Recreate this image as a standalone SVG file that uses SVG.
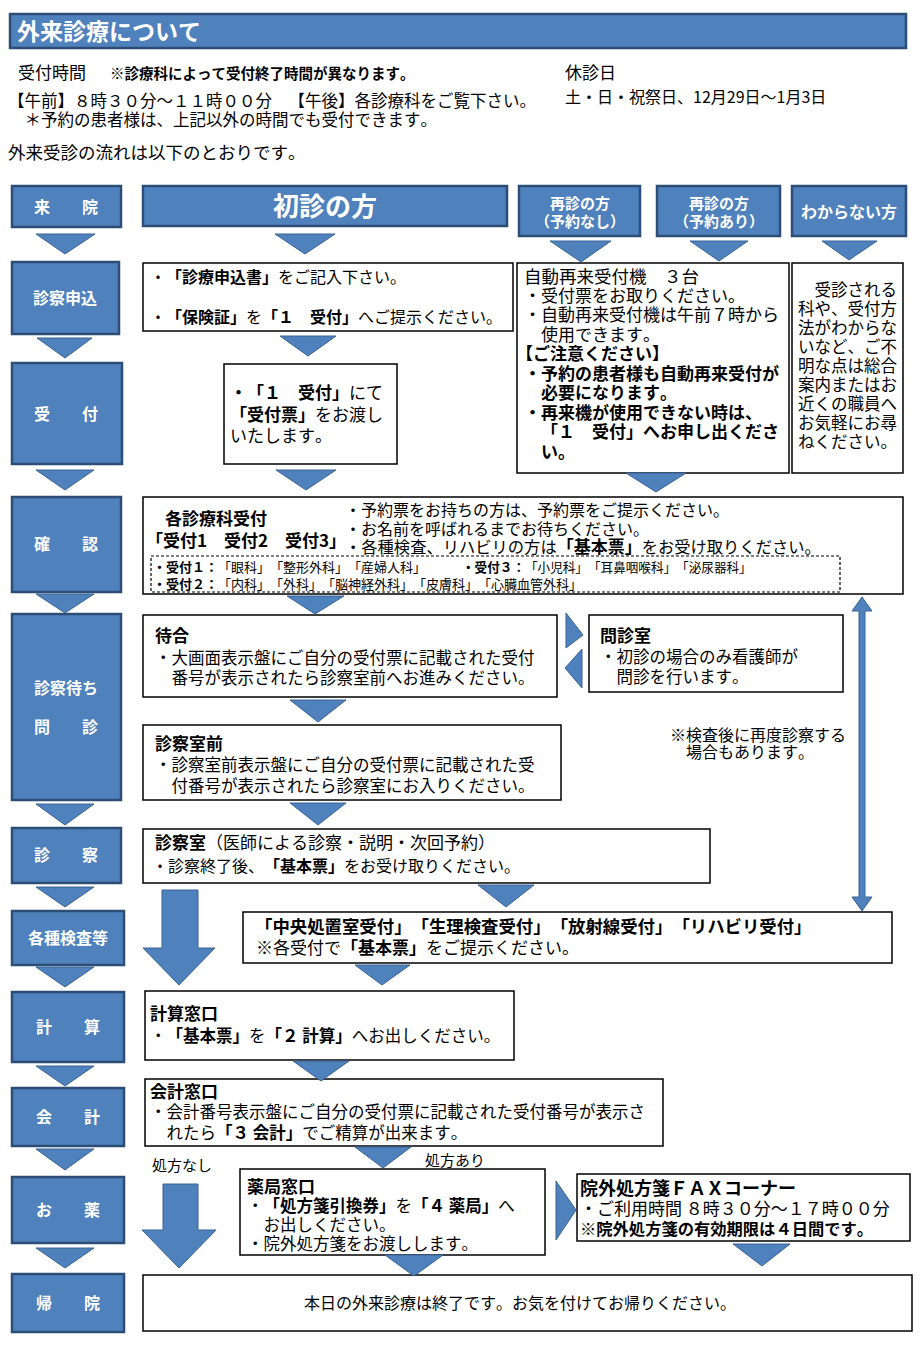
<svg xmlns="http://www.w3.org/2000/svg" width="924" height="1349" viewBox="0 0 924 1349">
<style>
text{font-family:"Noto Sans CJK JP","Noto Sans CJK SC",sans-serif;fill:#000;text-spacing-trim:space-all;font-kerning:none}
.b{font-weight:bold}
.bl{fill:#4F81BD;stroke:#2C4D75;stroke-width:2.5}
.wb{fill:#fff;stroke:#000;stroke-width:1.5}
.dash{fill:none;stroke:#000;stroke-width:1.2;stroke-dasharray:3 2}
.tri{fill:#4F81BD;stroke:#3A6494;stroke-width:1}
.lb{fill:#fff;font-weight:bold;font-size:16px;text-anchor:middle}
.f16{font-size:16px}
.f17{font-size:17px}
</style>
<rect width="924" height="1349" fill="#fff"/>

<g id="title">
<rect x="10" y="14" width="896" height="34" class="bl"/>
<text x="17" y="40" font-size="23" class="b" style="fill:#fff">外来診療について</text>
</g>

<g id="header">
<text x="18" y="79" font-size="17">受付時間</text>
<text x="110" y="79" font-size="14.5" class="b">※診療科によって受付終了時間が異なります。</text>
<text x="8" y="107" font-size="16.5">【午前】８時３０分～１１時００分　【午後】各診療科をご覧下さい。</text>
<text x="8" y="126" font-size="16.5">　＊予約の患者様は、上記以外の時間でも受付できます。</text>
<text x="8" y="159" font-size="17.5">外来受診の流れは以下のとおりです。</text>
<text x="565" y="79" font-size="17">休診日</text>
<text x="565" y="103" font-size="16">土・日・祝祭日、12月29日～1月3日</text>
</g>

<g id="steps">
<g id="s-raiin"><rect x="12" y="186" width="109" height="41" class="bl"/><text x="66" y="213" class="lb">来　　院</text></g>
<g id="s-moushikomi"><rect x="12" y="262" width="107" height="72" class="bl"/><text x="65" y="304" class="lb">診察申込</text></g>
<g id="s-uketsuke"><rect x="12" y="363" width="110" height="101" class="bl"/><text x="66" y="420" class="lb">受　　付</text></g>
<g id="s-kakunin"><rect x="12" y="497" width="109" height="95" class="bl"/><text x="66" y="550" class="lb">確　　認</text></g>
<g id="s-machi"><rect x="12" y="614" width="109" height="186" class="bl"/><text x="66" y="694" class="lb">診察待ち</text><text x="66" y="733" class="lb">問　　診</text></g>
<g id="s-shinsatsu"><rect x="12" y="828" width="109" height="55" class="bl"/><text x="66" y="861" class="lb">診　　察</text></g>
<g id="s-kensa"><rect x="12" y="911" width="112" height="54" class="bl"/><text x="68" y="944" class="lb">各種検査等</text></g>
<g id="s-keisan"><rect x="12" y="992" width="112" height="70" class="bl"/><text x="68" y="1033" class="lb">計　　算</text></g>
<g id="s-kaikei"><rect x="12" y="1088" width="112" height="58" class="bl"/><text x="68" y="1123" class="lb">会　　計</text></g>
<g id="s-kusuri"><rect x="12" y="1177" width="112" height="66" class="bl"/><text x="68" y="1216" class="lb">お　　薬</text></g>
<g id="s-kiin"><rect x="12" y="1274" width="112" height="58" class="bl"/><text x="68" y="1309" class="lb">帰　　院</text></g>
</g>

<g id="heads">
<g id="h-shoshin"><rect x="143" y="186" width="364" height="40" class="bl"/><text x="325" y="216" class="lb" style="font-size:26px">初診の方</text></g>
<g id="h-nashi"><rect x="519" y="186" width="121" height="50" class="bl"/><text x="580" y="209" class="lb" style="font-size:15px">再診の方</text><text x="580" y="227" class="lb" style="font-size:15px">（予約なし）</text></g>
<g id="h-ari"><rect x="657" y="186" width="123" height="50" class="bl"/><text x="719" y="209" class="lb" style="font-size:15px">再診の方</text><text x="719" y="227" class="lb" style="font-size:15px">（予約あり）</text></g>
<g id="h-wakaranai"><rect x="792" y="186" width="114" height="50" class="bl"/><text x="849" y="218" class="lb">わからない方</text></g>
</g>

<g id="n-moushikomi">
<rect x="143" y="263" width="370" height="68" class="wb"/>
<text x="150" y="283" class="f16">・<tspan class="b">「診療申込書」</tspan>をご記入下さい。</text>
<text x="150" y="323" class="f16">・<tspan class="b">「保険証」</tspan>を<tspan class="b">「１　受付」</tspan>へご提示ください。</text>
</g>

<g id="n-uketsuke">
<rect x="224" y="364" width="173" height="100" class="wb"/>
<text x="230" y="399" class="f17"><tspan class="b">・「１　受付」</tspan>にて</text>
<text x="230" y="421" class="f17"><tspan class="b">「受付票」</tspan>をお渡し</text>
<text x="230" y="442" class="f17">いたします。</text>
</g>

<g id="n-jidou">
<rect x="517" y="263" width="272" height="210" class="wb"/>
<text x="524" y="283" font-size="17.5">自動再来受付機　３台</text>
<text x="524" y="302" class="f17">・受付票をお取りください。</text>
<text x="524" y="321" class="f17">・自動再来受付機は午前７時から</text>
<text x="524" y="341" class="f17">　使用できます。</text>
<text x="516" y="360" class="f17 b">【ご注意ください】</text>
<text x="524" y="380" class="f17 b">・予約の患者様も自動再来受付が</text>
<text x="524" y="399" class="f17 b">　必要になります。</text>
<text x="524" y="419" class="f17 b">・再来機が使用できない時は、</text>
<text x="524" y="438" class="f17 b">　「１　受付」へお申し出くださ</text>
<text x="524" y="458" class="f17 b">　い。</text>
</g>

<g id="n-wakaranai">
<rect x="792" y="263" width="111" height="210" class="wb"/>
<g font-size="16.5">
<text x="798" y="296">　受診される</text>
<text x="798" y="315">科や、受付方</text>
<text x="798" y="334">法がわからな</text>
<text x="798" y="353">いなど、ご不</text>
<text x="798" y="372">明な点は総合</text>
<text x="798" y="391">案内またはお</text>
<text x="798" y="410">近くの職員へ</text>
<text x="798" y="429">お気軽にお尋</text>
<text x="798" y="448">ねください。</text>
</g>
</g>

<g id="n-kakunin">
<rect x="143" y="497" width="760" height="97" class="wb"/>
<text x="165" y="525" class="f17 b">各診療科受付</text>
<text x="146" y="547" class="f17 b">「受付1　受付2　受付3」</text>
<text x="345" y="516" class="f16">・予約票をお持ちの方は、予約票をご提示ください。</text>
<text x="345" y="535" class="f16">・お名前を呼ばれるまでお待ちください。</text>
<text x="345" y="553" font-size="16.3">・各種検査、リハビリの方は<tspan class="b" font-size="17">「基本票」</tspan>をお受け取りください。</text>
<rect x="151" y="556" width="689" height="36" class="dash"/>
<text x="153" y="572" font-size="13"><tspan class="b">・受付１：</tspan>「眼科」「整形外科」「産婦人科」</text>
<text x="462" y="572" font-size="12.6"><tspan class="b">・受付３：</tspan>「小児科」「耳鼻咽喉科」「泌尿器科」</text>
<text x="153" y="589" font-size="13"><tspan class="b">・受付２：</tspan>「内科」「外科」「脳神経外科」「皮膚科」「心臓血管外科」</text>
</g>

<g id="n-machiai">
<rect x="143" y="615" width="414" height="82" class="wb"/>
<text x="155" y="642" class="f17 b">待合</text>
<text x="155" y="664" font-size="16.5">・大画面表示盤にご自分の受付票に記載された受付</text>
<text x="155" y="684" font-size="16.5">　番号が表示されたら診察室前へお進みください。</text>
</g>

<g id="n-monshin">
<rect x="589" y="615" width="254" height="77" class="wb"/>
<text x="600" y="642" class="f17 b">問診室</text>
<text x="600" y="663" font-size="16.5">・初診の場合のみ看護師が</text>
<text x="600" y="683" font-size="16.5">　問診を行います。</text>
</g>

<g id="n-mae">
<rect x="143" y="725" width="418" height="75" class="wb"/>
<text x="155" y="750" class="f17 b">診察室前</text>
<text x="155" y="771" font-size="16.5">・診察室前表示盤にご自分の受付票に記載された受</text>
<text x="155" y="792" font-size="16.5">　付番号が表示されたら診察室にお入りください。</text>
</g>

<g id="note">
<text x="670" y="741" class="f16">※検査後に再度診察する</text>
<text x="670" y="758" class="f16">　場合もあります。</text>
</g>

<g id="n-shinsatsu">
<rect x="143" y="829" width="567" height="54" class="wb"/>
<text x="155" y="849" class="f17"><tspan class="b">診察室</tspan>（医師による診察・説明・次回予約）</text>
<text x="152" y="872" class="f16">・診察終了後、<tspan class="b">「基本票」</tspan>をお受け取りください。</text>
</g>

<g id="n-kensa">
<rect x="243" y="912" width="649" height="51" class="wb"/>
<text x="255" y="933" font-size="17.4" class="b">「中央処置室受付」「生理検査受付」「放射線受付」「リハビリ受付」</text>
<text x="256" y="954" class="f17">※各受付で<tspan class="b">「基本票」</tspan>をご提示ください。</text>
</g>

<g id="n-keisan">
<rect x="145" y="991" width="369" height="69" class="wb"/>
<text x="150" y="1020" class="f17 b">計算窓口</text>
<text x="150" y="1042" font-size="16.5">・<tspan class="b">「基本票」</tspan>を<tspan class="b">「２ 計算」</tspan>へお出しください。</text>
</g>

<g id="n-kaikei">
<rect x="145" y="1079" width="518" height="67" class="wb"/>
<text x="150" y="1098" class="f17 b">会計窓口</text>
<text x="150" y="1118" font-size="16.5">・会計番号表示盤にご自分の受付票に記載された受付番号が表示さ</text>
<text x="150" y="1139" font-size="16.5">　れたら<tspan class="b">「３ 会計」</tspan>でご精算が出来ます。</text>
</g>

<g id="labels">
<text x="152" y="1171" font-size="15">処方なし</text>
<text x="425" y="1166" font-size="15">処方あり</text>
</g>

<g id="n-yakkyoku">
<rect x="240" y="1169" width="305" height="86" class="wb"/>
<text x="247" y="1193" class="f17 b">薬局窓口</text>
<text x="247" y="1212" font-size="16.5">・<tspan class="b">「処方箋引換券」</tspan>を<tspan class="b">「４ 薬局」</tspan>へ</text>
<text x="247" y="1231" font-size="16.5">　お出しください。</text>
<text x="247" y="1250" font-size="16.5">・院外処方箋をお渡しします。</text>
</g>

<g id="n-fax">
<rect x="577" y="1174" width="333" height="67" class="wb"/>
<text x="580" y="1195" font-size="18" class="b">院外処方箋ＦＡＸコーナー</text>
<text x="580" y="1215" font-size="17">・ご利用時間 ８時３０分～１７時００分</text>
<text x="580" y="1235" font-size="16.3" class="b">※院外処方箋の有効期限は４日間です。</text>
</g>

<g id="n-kiin">
<rect x="143" y="1275" width="769" height="56" class="wb"/>
<text x="520" y="1309" class="f16" text-anchor="middle">本日の外来診療は終了です。お気を付けてお帰りください。</text>
</g>

<g id="connectors">
<polygon class="tri" points="36,234 95,234 65,254"/>
<polygon class="tri" points="37,338 92,338 65,358"/>
<polygon class="tri" points="36,470 94,470 65,490"/>
<polygon class="tri" points="36,594 94,594 65,613"/>
<polygon class="tri" points="36,804 94,804 65,825"/>
<polygon class="tri" points="36,887 94,887 65,907"/>
<polygon class="tri" points="36,967 94,967 65,987"/>
<polygon class="tri" points="36,1066 94,1066 65,1086"/>
<polygon class="tri" points="36,1149 94,1149 65,1170"/>
<polygon class="tri" points="36,1248 94,1248 65,1268"/>
<polygon class="tri" points="275,234 335,234 305,254"/>
<polygon class="tri" points="280,336 336,336 308,356"/>
<polygon class="tri" points="276,470 336,470 306,490"/>
<polygon class="tri" points="287,596 344,596 315,614"/>
<polygon class="tri" points="290,700 346,700 318,722"/>
<polygon class="tri" points="290,803 346,803 318,825"/>
<polygon class="tri" points="478,885 534,885 506,907"/>
<polygon class="tri" points="355,965 410,965 382,985"/>
<polygon class="tri" points="293,1061 349,1061 321,1081"/>
<polygon class="tri" points="355,1147 411,1147 383,1168"/>
<polygon class="tri" points="385,1255 443,1255 414,1276"/>
<polygon class="tri" points="733,1244 790,1244 762,1266"/>
<polygon class="tri" points="550,241 611,241 581,262"/>
<polygon class="tri" points="690,241 748,241 719,261"/>
<polygon class="tri" points="822,241 877,241 849,260"/>
<polygon class="tri" points="626,473 686,473 656,492"/>
<polygon class="tri" points="566,613 583,635 566,648"/>
<polygon class="tri" points="582,649 565,668 582,688"/>
<polygon class="tri" points="556,1181 576,1210 556,1240"/>
<polygon class="tri" points="162,890 198,890 198,948 215,948 179,985 143,948 162,948"/>
<polygon class="tri" points="163,1184 198,1184 198,1230 216,1230 179,1268 142,1230 163,1230"/>
<polygon class="tri" points="862,597 872,611 865,611 865,897 872,897 862,911 852,897 859,897 859,611 852,611"/>
</g>
</svg>
